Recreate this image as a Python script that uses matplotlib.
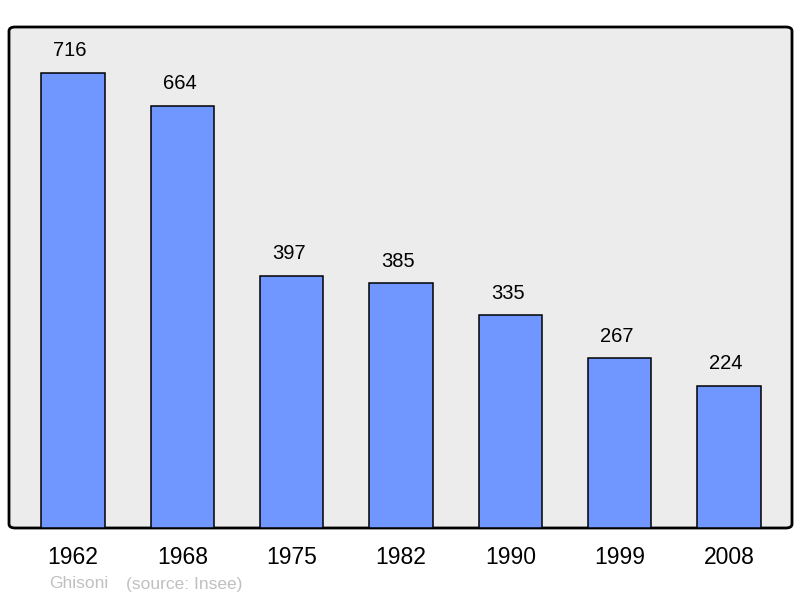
import matplotlib.pyplot as plt
from matplotlib.patches import FancyBboxPatch

# data
years = ["1962", "1968", "1975", "1982", "1990", "1999", "2008"]
population = [716, 664, 397, 385, 335, 267, 224]
commune = "Ghisoni"
source = "(source: Insee)"

plt.rcParams['font.family'] = ['Liberation Sans', 'DejaVu Sans']

fig = plt.figure(figsize=(8, 5.98), dpi=100)
ax = fig.add_axes([9 / 800, 1 - 528 / 598, 783 / 800, 501 / 598])
ax.set_facecolor("none")

# rounded frame with light gray fill
frame = FancyBboxPatch((0, 0), 1, 1, boxstyle="round,pad=0,rounding_size=0.008",
                       transform=ax.transAxes, facecolor="#ececec", edgecolor="black",
                       linewidth=2, clip_on=False, zorder=0)
ax.add_patch(frame)

x = list(range(len(years)))
ax.bar(x, population, width=0.58, color="#7097ff", edgecolor="black", linewidth=1.1, zorder=2)

for xi, v in zip(x, population):
    ax.annotate(str(v), (xi, v), xytext=(-2, 9), textcoords="offset points",
                ha="center", va="bottom", fontsize=14.5, color="black")

ax.set_xlim(-0.585, 6.576)
ax.set_ylim(0, 788)
ax.set_yticks([])
ax.set_xticks(x)
ax.set_xticklabels(years, fontsize=16.5)
ax.tick_params(axis="x", length=0, pad=13)
for s in ax.spines.values():
    s.set_visible(False)

fig.text(49 / 800, 1 - 584 / 598, commune, fontsize=12.5, color="#c0c0c0", va="center")
fig.text(126 / 800, 1 - 584 / 598, source, fontsize=12.5, color="#c0c0c0", va="center")

fig.savefig("out.png", dpi=100)
